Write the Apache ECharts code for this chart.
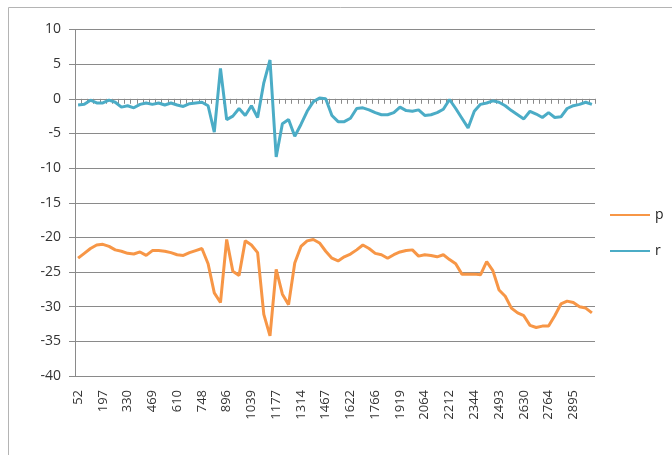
<!DOCTYPE html>
<html>
<head>
<meta charset="utf-8">
<script src="https://cdn.jsdelivr.net/npm/echarts@6/dist/echarts.min.js"></script>
<style>
  html, body { margin: 0; padding: 0; background: #fff; }
  #chart { width: 672px; height: 455px; }
</style>
</head>
<body>
<div id="chart"></div>
<script>
// Sample positions along the run (category axis)
const categories = [
  52, 88, 124, 161, 197, 230, 263, 297, 330, 365, 400, 434,
  469, 504, 540, 575, 610, 645, 679, 714, 748, 785, 822, 859,
  896, 932, 967, 1003, 1039, 1073, 1108, 1142, 1177, 1211, 1245, 1280,
  1314, 1352, 1390, 1429, 1467, 1506, 1545, 1583, 1622, 1658, 1694, 1730,
  1766, 1804, 1842, 1881, 1919, 1955, 1991, 2028, 2064, 2101, 2138, 2175,
  2212, 2245, 2278, 2311, 2344, 2381, 2418, 2456, 2493, 2527, 2561, 2596,
  2630, 2663, 2697, 2730, 2764, 2797, 2830, 2862, 2895, 2928, 2961, 2994
];

// Series p
const pValues = [
  -23.0, -22.3, -21.6, -21.1, -21.0, -21.3, -21.8, -22.0, -22.3, -22.4, -22.1, -22.6,
  -21.9, -21.9, -22.0, -22.2, -22.5, -22.6, -22.2, -21.9, -21.6, -23.8, -28.0, -29.4,
  -20.3, -24.9, -25.5, -20.5, -21.1, -22.2, -31.1, -34.2, -24.6, -28.2, -29.7, -23.7,
  -21.3, -20.5, -20.3, -20.8, -22.0, -23.0, -23.4, -22.8, -22.4, -21.8, -21.1, -21.6,
  -22.3, -22.5, -23.0, -22.5, -22.1, -21.9, -21.8, -22.7, -22.5, -22.6, -22.8, -22.5,
  -23.2, -23.8, -25.3, -25.3, -25.3, -25.4, -23.5, -24.8, -27.6, -28.5, -30.2, -30.9,
  -31.3, -32.7, -33.0, -32.8, -32.8, -31.3, -29.6, -29.2, -29.4, -30.0, -30.2, -30.9
];

// Series r
const rValues = [
  -0.9, -0.8, -0.2, -0.6, -0.6, -0.2, -0.5, -1.2, -1.0, -1.3, -0.8, -0.6,
  -0.8, -0.6, -0.9, -0.6, -0.9, -1.1, -0.7, -0.6, -0.5, -1.0, -4.8, 4.4,
  -3.0, -2.5, -1.4, -2.4, -1.0, -2.7, 2.3, 5.6, -8.4, -3.6, -3.0, -5.4,
  -3.7, -1.8, -0.4, 0.1, 0.0, -2.4, -3.3, -3.3, -2.8, -1.4, -1.3, -1.6,
  -2.0, -2.3, -2.3, -2.0, -1.2, -1.7, -1.8, -1.6, -2.4, -2.3, -2.0, -1.5,
  -0.1, -1.4, -2.8, -4.2, -1.8, -0.8, -0.6, -0.3, -0.5, -1.0, -1.7, -2.3,
  -2.9, -1.8, -2.2, -2.7, -2.0, -2.7, -2.6, -1.4, -1.0, -0.8, -0.5, -0.8
];

// Value axis range and step
const yMin = -40;
const yMax = 10;
const yStep = 5;

const gray = '#8a8a8a';
const font = '"Open Sans", "Liberation Sans", sans-serif';

const chart = echarts.init(document.getElementById('chart'), null, { renderer: 'canvas' });

chart.setOption({
  animation: false,
  backgroundColor: '#ffffff',
  graphic: [{
    type: 'rect',
    shape: { x: 8.5, y: 7.5, width: 700, height: 500 },
    style: { fill: 'none', stroke: '#b4b4b4', lineWidth: 1 },
    silent: true
  }],
  grid: { left: 75, right: 77, top: 29.5, bottom: 79, containLabel: false },
  legend: {
    orient: 'vertical',
    left: 604,
    top: 203,
    itemWidth: 40,
    itemHeight: 14,
    itemGap: 22,
    itemStyle: { opacity: 0 },
    textStyle: { fontFamily: font, fontSize: 14, color: '#222' },
    data: ['p', 'r']
  },
  xAxis: [
    {
      // labels along the bottom edge
      type: 'category',
      data: categories,
      position: 'bottom',
      boundaryGap: true,
      axisLine: { show: false, onZero: false },
      axisTick: { show: false },
      axisLabel: {
        interval: 3,
        rotate: 90,
        margin: 14,
        fontFamily: font,
        fontSize: 13,
        color: '#333'
      },
      splitLine: { show: false }
    },
    {
      // axis line with tick marks crossing at zero
      type: 'category',
      data: categories,
      position: 'bottom',
      boundaryGap: true,
      axisLine: { show: true, onZero: true, lineStyle: { color: gray, width: 1 } },
      axisTick: { show: true, interval: 0, length: 5, lineStyle: { color: gray } },
      axisLabel: { show: false },
      splitLine: { show: false }
    }
  ],
  yAxis: {
    type: 'value',
    min: yMin,
    max: yMax,
    interval: yStep,
    axisLine: { show: true, onZero: false, lineStyle: { color: gray, width: 1 } },
    axisTick: { show: true, length: 6, lineStyle: { color: gray } },
    axisLabel: {
      margin: 14,
      fontFamily: font,
      fontSize: 14,
      color: '#333'
    },
    splitLine: { show: true, lineStyle: { color: gray, width: 1 } }
  },
  series: [
    {
      name: 'p',
      type: 'line',
      xAxisIndex: 0,
      data: pValues,
      symbol: 'none',
      smooth: false,
      lineStyle: { color: '#F79646', width: 3 },
      itemStyle: { color: '#F79646' }
    },
    {
      name: 'r',
      type: 'line',
      xAxisIndex: 0,
      data: rValues,
      symbol: 'none',
      smooth: false,
      lineStyle: { color: '#4BACC6', width: 3 },
      itemStyle: { color: '#4BACC6' }
    }
  ]
});
</script>
</body>
</html>
